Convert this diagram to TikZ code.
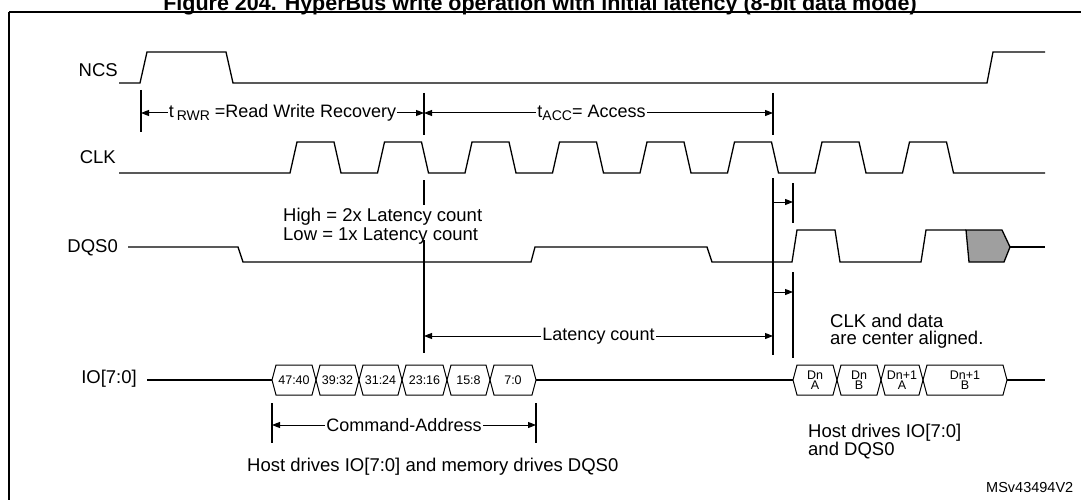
\documentclass[tikz,border=0pt]{standalone}
\usepackage{fontspec}
\setmainfont{Liberation Sans}
\usetikzlibrary{arrows.meta}
\begin{document}
\begin{tikzpicture}[x=1pt,y=-1pt,
  wave/.style={line width=1.3pt},
  dim/.style={line width=1pt},
  tick/.style={line width=1.1pt},
  arr/.style={dim,{Triangle[length=8,width=6]}-{Triangle[length=8,width=6]}},
  rarr/.style={dim,-{Triangle[length=8,width=6]}},
  lbl/.style={font=\fontsize{18.5}{20}\selectfont, inner sep=0pt},
  small/.style={font=\fontsize{12.5}{12.5}\selectfont, inner sep=0pt, align=center},
  txt/.style={font=\fontsize{18}{20}\selectfont, inner sep=1pt, fill=white},
  seg/.style={line width=1pt}]
\useasboundingbox (0,0) rectangle (1081,500);
\clip (0,0) rectangle (1081,500);
% title and frame
\node[font=\bfseries\fontsize{21.5}{23}\selectfont, inner sep=0pt] (title) at (540,5) {Figure 204. HyperBus write operation with initial latency (8-bit data mode)};
\draw[line width=2pt] (9,12) -- (1095,12);
\draw[line width=2pt] (9,12) -- (9,510);
% signal labels
\node[lbl, anchor=east] (ncs) at (118,70) {NCS};
\node[lbl, anchor=east] (clk) at (116,157) {CLK};
\node[lbl, anchor=east] (dqs) at (118,248) {DQS0};
\node[lbl, anchor=east] (io) at (137,379) {IO[7:0]};
% NCS
\draw[wave] (119,83) -- (140,83) -- (147,52) -- (226,52) -- (233,83) -- (987,83) -- (993,52) -- (1045,52);
% CLK
\draw[wave] (119,173)
  \foreach \r in {290,377.5,465,552.5,640,727.5,815,902.5} { -- (\r,173) -- (\r+7,142) -- (\r+44,142) -- (\r+51,173) }
  -- (1045,173);
% DQS0
\draw[wave] (128,247) -- (238,247) -- (243,262) -- (531,262) -- (535,247) -- (707,247) -- (712,262) -- (792,262) -- (797,230) -- (835,230) -- (840,262) -- (921,262) -- (926,230) -- (966,230);
\draw[wave, fill=gray!75] (966,230) -- (1002,230) -- (1010,247) -- (1004,262) -- (969,262) -- cycle;
\draw[wave] (1010,247) -- (1045,247);
% IO bus
\draw[wave] (147,380) -- (272,380);
\foreach \a/\b/\t in {272/316/47:40, 316/359/39:32, 359/402/31:24, 402/447/23:16, 447/490/15:8, 490/536/7:0}{
  \draw[seg] (\a,380) -- (\a+4,365) -- (\b-4,365) -- (\b,380) -- (\b-4,395) -- (\a+4,395) -- cycle;
  \node[small] at ({(\a+\b)/2},380) {\t};
}
\draw[wave] (536,380) -- (793,380);
\foreach \a/\b/\t in {793/837/{Dn\\[-2pt]A}, 837/881/{Dn\\[-2pt]B}, 881/923/{Dn+1\\[-2pt]A}, 923/1007/{Dn+1\\[-2pt]B}}{
  \draw[seg] (\a,380) -- (\a+4,365) -- (\b-4,365) -- (\b,380) -- (\b-4,395) -- (\a+4,395) -- cycle;
  \node[small] at ({(\a+\b)/2},380) {\t};
}
\draw[wave] (1007,380) -- (1045,380);
% timing markers
\coordinate (r1t) at (141,90); \coordinate (r1b) at (141,132);
\coordinate (r2t) at (424,93); \coordinate (r2b) at (424,135);
\coordinate (r3t) at (773,93); \coordinate (r3b) at (773,135);
\draw[tick] (r1t) -- (r1b); \draw[tick] (r2t) -- (r2b); \draw[tick] (r3t) -- (r3b);
\coordinate (a1) at (141,113); \coordinate (a2) at (424,113); \coordinate (a3) at (773,113);
\draw[arr] (a1) -- (a2) node[txt, pos=0.5] (trwr) {t\,\raisebox{-0.35ex}{\fontsize{14}{14}\selectfont RWR} =Read Write Recovery};
\draw[arr] (a2) -- (a3) node[txt, pos=0.48] (tacc) {t\raisebox{-0.35ex}{\fontsize{14}{14}\selectfont ACC}= Access};
% CLK vertical and latency note
\coordinate (v1t) at (424,180); \coordinate (v1b) at (424,205);
\draw[tick] (v1t) -- (v1b);
\node[lbl, anchor=west, align=left] (lat) at (283,226) {High = 2x Latency count\\[-1pt]Low = 1x Latency count};
\coordinate (v2t) at (424,240); \coordinate (v2b) at (424,353);
\draw[tick] (v2t) -- (v2b);
\coordinate (v3t) at (773,178); \coordinate (v3b) at (773,355);
\draw[tick] (v3t) -- (v3b);
\coordinate (v4t) at (793,183); \coordinate (v4b) at (793,223);
\draw[tick] (v4t) -- (v4b);
\coordinate (v5t) at (793,272); \coordinate (v5b) at (793,358);
\draw[tick] (v5t) -- (v5b);
\coordinate (s1a) at (773,202); \coordinate (s1b) at (793,202);
\draw[rarr] (s1a) -- (s1b);
\coordinate (s2a) at (773,292); \coordinate (s2b) at (793,292);
\draw[rarr] (s2a) -- (s2b);
\coordinate (l1) at (424,336); \coordinate (l2) at (773,336);
\draw[arr] (l1) -- (l2) node[txt, pos=0.5] (latc) {Latency count};
\node[lbl, anchor=west, align=left] (center) at (830,331) {CLK and data\\[-3pt]are center aligned.};
% Command-Address
\coordinate (c1t) at (272,403); \coordinate (c1b) at (272,443);
\coordinate (c2t) at (536,403); \coordinate (c2b) at (536,443);
\draw[tick] (c1t) -- (c1b); \draw[tick] (c2t) -- (c2b);
\coordinate (ca1) at (272,425); \coordinate (ca2) at (536,425);
\draw[arr] (ca1) -- (ca2) node[txt, pos=0.5] (cmd) {Command-Address};
\node[lbl, anchor=west] (host1) at (247,467) {Host drives IO[7:0] and memory drives DQS0};
\node[lbl, anchor=west, align=left] (host2) at (808,442) {Host drives IO[7:0]\\[-2pt]and DQS0};
\node[font=\fontsize{14.5}{14.5}\selectfont, inner sep=0pt, anchor=west] (ms) at (986,488) {MSv43494V2};
\end{tikzpicture}
\end{document}
